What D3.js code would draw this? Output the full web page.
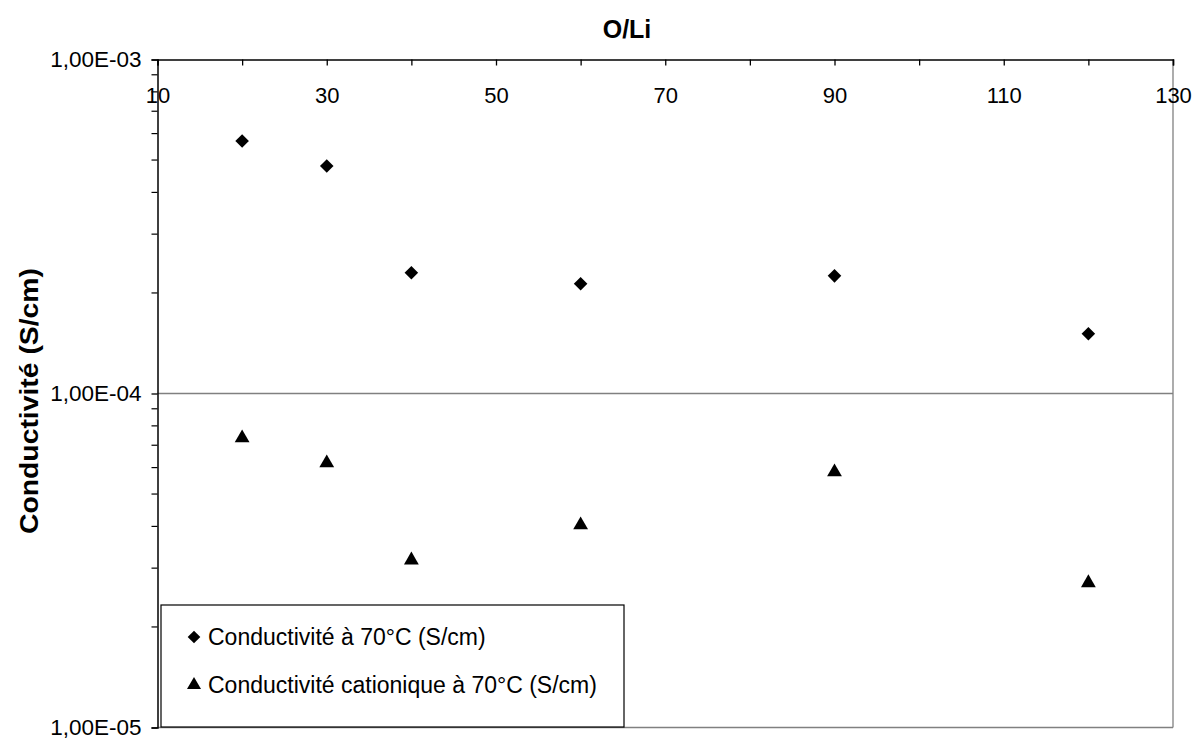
<!DOCTYPE html>
<html><head><meta charset="utf-8">
<script src="https://cdn.jsdelivr.net/npm/d3@7"></script>
<style>body{margin:0;background:#fff}svg{font-family:"Liberation Sans",Arial,sans-serif}</style>
</head><body>
<svg id="c" width="1193" height="738"></svg>
<script>
const ratios = [20, 30, 40, 60, 90, 120];
const conductivity = [5.70e-4, 4.80e-4, 2.30e-4, 2.13e-4, 2.25e-4, 1.51e-4];
const cationic = [7.36e-5, 6.19e-5, 3.17e-5, 4.04e-5, 5.82e-5, 2.71e-5];
const xTickLabels = [10, 30, 50, 70, 90, 110, 130];
const yTickLabels = ["1,00E-05", "1,00E-04", "1,00E-03"];
const yMajor = [1e-5, 1e-4, 1e-3];
const seriesNames = ["Conductivité à 70°C (S/cm)", "Conductivité cationique à 70°C (S/cm)"];

const svg = d3.select("#c");
const L = 157.5, R = 1173, T = 59.5, B = 727.5;
const x = d3.scaleLinear().domain([10, 130]).range([L, R]);
const y = d3.scaleLog().domain([1e-5, 1e-3]).range([B, T]);

svg.append("line").attr("x1", R).attr("x2", R).attr("y1", T).attr("y2", B).attr("stroke", "#808080").attr("stroke-width", 1.3);
svg.append("line").attr("x1", L).attr("x2", R).attr("y1", B).attr("y2", B).attr("stroke", "#808080").attr("stroke-width", 1.3);
svg.append("line").attr("x1", L).attr("x2", R).attr("y1", y(1e-4)).attr("y2", y(1e-4)).attr("stroke", "#808080").attr("stroke-width", 1.5);

const minor = [];
for (let d = -5; d < -3; d++) for (let m = 2; m <= 9; m++) minor.push(m * Math.pow(10, d));
svg.append("g").selectAll("line").data(minor).join("line")
  .attr("x1", L - 6).attr("x2", L).attr("y1", d => y(d)).attr("y2", d => y(d)).attr("stroke", "#000").attr("stroke-width", 1.2);

const yAxis = d3.axisLeft(y).tickValues(yMajor).tickFormat((d, i) => yTickLabels[i]).tickSize(6).tickPadding(10);
const gy = svg.append("g").attr("transform", `translate(${L},0)`).call(yAxis);
gy.select(".domain").attr("stroke", "#000").attr("stroke-width", 1.5);
gy.selectAll(".tick line").attr("stroke-width", 1.3);
gy.selectAll("text").attr("font-size", 22.5).attr("font-family", "Liberation Sans, Arial, sans-serif").attr("fill", "#000");

const xAxis = d3.axisBottom(x).tickValues(d3.range(10, 131, 10)).tickSize(6).tickFormat(d => xTickLabels.includes(d) ? d : "").tickPadding(22);
const gx = svg.append("g").attr("transform", `translate(0,${T})`).call(xAxis);
gx.select(".domain").attr("stroke", "#000").attr("stroke-width", 1.5);
gx.selectAll(".tick line").attr("stroke-width", 1.3);
gx.selectAll("text").attr("font-size", 22).attr("font-family", "Liberation Sans, Arial, sans-serif").attr("fill", "#000");

svg.append("text").attr("x", 627).attr("y", 38).attr("text-anchor", "middle").attr("font-size", 25).attr("font-weight", "bold").text("O/Li");
svg.append("text").attr("transform", `translate(38,401) rotate(-90)`).attr("text-anchor", "middle").attr("font-size", 25).attr("font-weight", "bold")
  .attr("textLength", 266).attr("lengthAdjust", "spacingAndGlyphs").text("Conductivité (S/cm)");

const diamond = d3.symbol().type(d3.symbolSquare).size(92);
const tri = d3.symbol().type(d3.symbolTriangle).size(95);

svg.append("g").selectAll("path").data(ratios.map((r, i) => [r, conductivity[i]])).join("path")
  .attr("d", diamond).attr("transform", d => `translate(${x(d[0])},${y(d[1])}) rotate(45)`).attr("fill", "#000");
svg.append("g").selectAll("path").data(ratios.map((r, i) => [r, cationic[i]])).join("path")
  .attr("d", tri).attr("transform", d => `translate(${x(d[0])},${y(d[1])})`).attr("fill", "#000");

const lg = svg.append("g");
lg.append("rect").attr("x", 161).attr("y", 605).attr("width", 463).attr("height", 122).attr("fill", "#fff").attr("stroke", "#000").attr("stroke-width", 1.2);
lg.append("path").attr("d", d3.symbol().type(d3.symbolSquare).size(80)).attr("transform", "translate(194,637) rotate(45)");
lg.append("path").attr("d", d3.symbol().type(d3.symbolTriangle).size(85)).attr("transform", "translate(194,685)");
lg.append("text").attr("x", 208).attr("y", 637).attr("dy", "0.35em").attr("font-size", 23).text(seriesNames[0]);
lg.append("text").attr("x", 208).attr("y", 685).attr("dy", "0.35em").attr("font-size", 23).text(seriesNames[1]);
</script>
</body></html>
